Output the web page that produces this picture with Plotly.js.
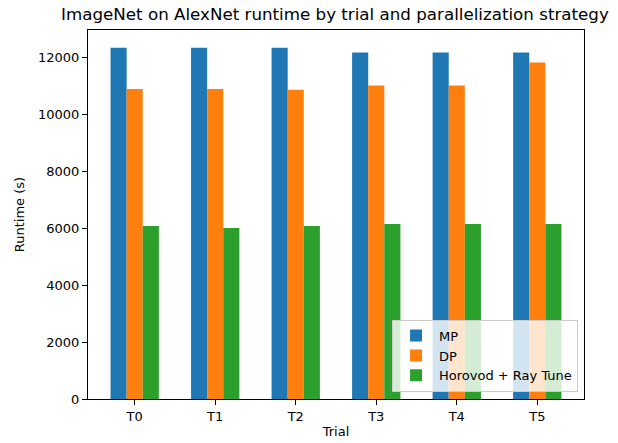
<!DOCTYPE html>
<html><head><meta charset="utf-8">
<script src="https://cdn.plot.ly/plotly-3.0.1.min.js"></script>
<style>html,body{margin:0;padding:0;background:#fff}</style>
</head><body><div id="chart" style="width:618px;height:443px"></div>
<script>
const trials = ["T0","T1","T2","T3","T4","T5"];
const mpRuntime = [12350, 12350, 12350, 12180, 12180, 12180];
const dpRuntime = [10900, 10900, 10870, 11020, 11020, 11830];
const horovodRuntime = [6080, 6010, 6080, 6150, 6150, 6150];
const seriesNames = ["MP", "DP", "Horovod + Ray Tune"];
const colors = ["#1f77b4", "#ff7f0e", "#2ca02c"];
const font = "DejaVu Sans, sans-serif";

const data = [mpRuntime, dpRuntime, horovodRuntime].map((vals, i) => ({
  type: "bar", x: trials, y: vals, name: seriesNames[i],
  marker: {color: colors[i], line: {width: 0}}
}));

const layout = {
  width: 618, height: 443,
  margin: {l: 88, r: 34, t: 30, b: 44},
  paper_bgcolor: "#fff", plot_bgcolor: "#fff",
  font: {family: font, size: 13, color: "#000"},
  title: {text: "ImageNet on AlexNet runtime by trial and parallelization strategy",
          font: {family: font, size: 16.7, color: "#000"}, x: 0.542, xanchor: "center", y: 0.968, yanchor: "middle"},
  barmode: "group", bargap: 0.4, bargroupgap: 0,
  xaxis: {type: "category", range: [-0.58, 5.58], showline: true, linecolor: "#000", linewidth: 1,
          mirror: true, ticks: "outside", ticklen: 5, tickcolor: "#000", showgrid: false, zeroline: false,
          tickfont: {family: font, size: 13},
          title: {text: "Trial", font: {family: font, size: 13}, standoff: 4}},
  yaxis: {range: [0, 12970], showline: true, linecolor: "#000", linewidth: 1, mirror: true,
          ticks: "outside", ticklen: 5, tickcolor: "#000", showgrid: false, zeroline: false,
          tickvals: [0,2000,4000,6000,8000,10000,12000], tickformat: "d",
          tickfont: {family: font, size: 13},
          title: {text: "Runtime (s)", font: {family: font, size: 13}, standoff: 10}},
  legend: {x: 0.988, xanchor: "right", y: 0.02, yanchor: "bottom",
           bgcolor: "rgba(255,255,255,0.8)", bordercolor: "#cccccc", borderwidth: 1,
           font: {family: font, size: 13}, tracegroupgap: 0, itemwidth: 36}
};
Plotly.newPlot("chart", data, layout, {displayModeBar: false, staticPlot: true});
</script></body></html>
